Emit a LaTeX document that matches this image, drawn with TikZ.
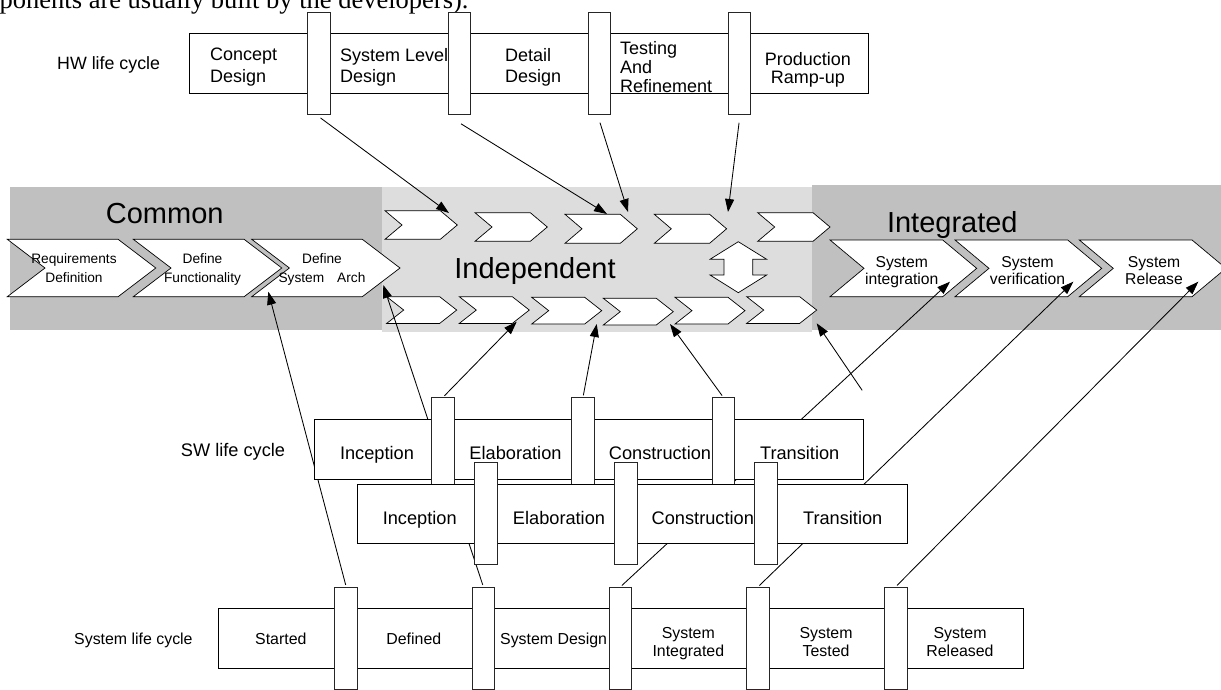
\documentclass[tikz,border=0pt]{standalone}
\usepackage{fontspec}
\setmainfont{Liberation Sans}
\newfontfamily\bodyserif{Liberation Serif}
\usetikzlibrary{arrows.meta}
\definecolor{bandDark}{HTML}{C0C0C0}
\definecolor{bandLight}{HTML}{DDDDDD}
\newcommand\fsz[2]{\fontsize{#1}{#2}\selectfont}
% chevron: left x, top y, width, height, point depth
\newcommand\chevron[5]{\filldraw[chevfill] (#1,#2) -- ++({#3-#5},0) -- ++(#5,{#4/2}) -- ++({-#5},{#4/2}) -- ++({#5-#3},0) -- ++(#5,{-#4/2}) -- cycle;}

\begin{document}
\begin{tikzpicture}[x=1pt,y=-1pt,
  phasebox/.style={draw=black,line width=0.9pt,fill=white,inner sep=0pt,anchor=north west},
  gate/.style={draw=black!85,line width=0.9pt,fill=white,minimum width=22.7pt,minimum height=102pt,inner sep=0pt},
  chevfill/.style={draw=black,line width=0.7pt,fill=white,line join=miter},
  link/.style={draw=black,line width=0.85pt,-{Triangle[length=13pt,width=9pt]},shorten <=2pt},
  plain/.style={draw=black,line width=0.85pt},
  hwtxt/.style={font=\fsz{18}{21.3},inner sep=0pt,align=left,anchor=west},
  swtxt/.style={font=\fsz{18.2}{21},inner sep=0pt,anchor=base},
  systxt/.style={font=\fsz{15.9}{18.4},inner sep=0pt,align=center},
  comtxt/.style={font=\fsz{13.7}{19.4},inner sep=0pt,align=center},
  inttxt/.style={font=\fsz{15.7}{17.7},inner sep=0pt,align=center},
  bigtxt/.style={font=\fsz{29}{32},inner sep=0pt,anchor=base},
  rowlabel/.style={inner sep=0pt,anchor=base west}
]
\useasboundingbox (0,0) rectangle (1221,690);
\clip (0,0) rectangle (1221,690);
\fill[white] (0,0) rectangle (1221,690);

% running text above the figure
\node[inner sep=0pt,anchor=base west,font=\bodyserif\fsz{26.5}{30}] (intro) at (-0.5,8.5) {ponents are usually built by the developers).};

% --- shared band: common / independent / integrated ---
\fill[bandDark] (10,186.7) rectangle (381.7,330);
\fill[bandLight] (381.7,186.7) rectangle (811.7,331.7);
\fill[bandDark] (811.7,185) rectangle (1221,330);

\node[bigtxt] (common) at (164.7,223.3) {Common};
\node[bigtxt] (independent) at (535,278.3) {Independent};
\node[bigtxt] (integrated) at (952.3,232.7) {Integrated};

% common phases
\chevron{7.3}{239.3}{148.5}{57.4}{37.7}
\chevron{133.3}{239.3}{148.5}{57.4}{37.7}
\chevron{251.7}{239.3}{148.3}{57.4}{37.7}
\node[comtxt] (req) at (74,268.1) {Requirements\\Definition};
\node[comtxt] (func) at (202.5,269.5) {Define\\Functionality};
\node[comtxt] (arch) at (322,269.5) {Define\\System\hspace{13pt}Arch};

% independent hardware track
\chevron{385}{210.7}{72.3}{28.6}{17}
\chevron{475}{212.7}{72.3}{28.6}{17}
\chevron{565}{214.3}{72.3}{29}{17}
\chevron{654.3}{214.3}{72.3}{29}{17}
\chevron{757.7}{212.7}{72.3}{28.6}{17}
% independent software track
\chevron{386.7}{296.7}{70}{26.7}{17}
\chevron{459.3}{296.7}{70}{26.7}{17}
\chevron{531.7}{297.3}{70}{26.7}{17}
\chevron{603.3}{298.3}{70}{26.7}{17}
\chevron{675}{297.3}{70}{26.7}{17}
\chevron{746.7}{296.7}{70}{26.7}{17}

% up-down arrow between the two tracks
\filldraw[chevfill] (738.3,241.7) -- (766.7,259.3) -- (752.7,259.3) -- (752.7,275) -- (766.7,275)
  -- (738.3,292.7) -- (710,275) -- (724,275) -- (724,259.3) -- (710,259.3) -- cycle;

% integrated phases
\chevron{830}{240}{146.7}{56.7}{34}
\chevron{955}{240}{146.7}{56.7}{34}
\chevron{1079.3}{240}{146.7}{56.7}{34}
\node[inttxt] (sysint) at (901.7,272.1) {System\\integration};
\node[inttxt] (sysver) at (1027.5,270.5) {System\\verification};
\node[inttxt] (sysrel) at (1154,270.5) {System\\Release};

% --- HW life cycle ---
\node[rowlabel,font=\fsz{17.8}{20}] (hwlabel) at (57,70) {HW life cycle};
\node[phasebox,minimum width=679pt,minimum height=60pt] (hw) at (189,33.3) {};
\node[hwtxt] (concept) at (210,67) {Concept\\Design};
\node[hwtxt] (syslevel) at (340,67) {System Level\\Design};
\node[hwtxt] (detail) at (505,67) {Detail\\Design};
\node[hwtxt,font=\fsz{18}{18.85}] (testing) at (620,67.4) {Testing\\And\\Refinement};
\node[hwtxt,align=center,anchor=center,font=\fsz{18}{17.7}] (ramp) at (807.8,69.9) {Production\\Ramp-up};
\node[gate] (hb1) at (318.9,63.3) {};
\node[gate] (hb2) at (459.3,63.3) {};
\node[gate] (hb3) at (599.4,63.3) {};
\node[gate] (hb4) at (739.3,63.3) {};

% arrow targets in the band
\coordinate (hA) at (449,213);
\coordinate (hB) at (607,214);
\coordinate (hC) at (628,212);
\coordinate (hD) at (728,212);
\coordinate (sA) at (516.7,321.7);
\coordinate (sB) at (596.7,324);
\coordinate (sC) at (670,324);
\coordinate (sD) at (816.7,323.3);
\coordinate (sDfrom) at (863.3,392);
\coordinate (yA) at (268.3,291.7);
\coordinate (yB) at (383.3,285);
\coordinate (yC) at (950,281.7);
\coordinate (yD) at (1073.3,281.7);
\coordinate (yE) at (1198.3,281.7);

% HW milestones into the independent hardware track
\draw[link] (hb1.south) ++(0,2) -- (hA);
\draw[link] (hb2.south) ++(0,8) -- (hB);
\draw[link] (hb3.south) ++(0,6) -- (hC);
\draw[link] (hb4.south) ++(0,6) -- (hD);

% --- gates of the system life cycle (placed first so their links run behind the SW rows) ---
\node[gate] (yb1) at (346.2,638.3) {};
\node[gate] (yb2) at (483.4,638.3) {};
\node[gate] (yb3) at (620.4,638.3) {};
\node[gate] (yb4) at (758,638.3) {};
\node[gate] (yb5) at (895.6,638.3) {};
\draw[link] (yb1.north) -- (yA);
\draw[link] (yb2.north) -- (yB);
\draw[link] (yb3.north) -- (yC);
\draw[link] (yb4.north) -- (yD);
\draw[link] (yb5.north) -- (yE);

% --- SW life cycle, first iteration ---
\node[rowlabel,font=\fsz{18.2}{21}] (swlabel) at (180.7,456) {SW life cycle};
\node[phasebox,minimum width=549.3pt,minimum height=59.7pt] (sw1) at (314,419.3) {};
\node[swtxt] (inc1) at (377,459.3) {Inception};
\node[swtxt] (ela1) at (515.5,459.3) {Elaboration};
\node[swtxt] (con1) at (660,459.3) {Construction};
\node[swtxt] (tra1) at (799.7,459.3) {Transition};
\node[gate] (sb1) at (443,448.7) {};
\node[gate] (sb2) at (583,448.7) {};
\node[gate] (sb3) at (723.3,448.7) {};
\draw[link] (sb1.north) -- (sA);
\draw[link] (sb2.north) -- (sB);
\draw[link] (sb3.north) -- (sC);
\draw[link] (sDfrom) -- (sD);

% --- SW life cycle, second iteration ---
\node[phasebox,minimum width=550pt,minimum height=59.3pt] (sw2) at (356.7,484) {};
\node[swtxt] (inc2) at (419.7,524) {Inception};
\node[swtxt] (ela2) at (559,524) {Elaboration};
\node[swtxt] (con2) at (702.8,524) {Construction};
\node[swtxt] (tra2) at (842.7,524) {Transition};
\node[gate] (tb1) at (485.7,513.3) {};
\node[gate] (tb2) at (626.2,513.3) {};
\node[gate] (tb3) at (766.2,513.3) {};

% --- System life cycle ---
\node[rowlabel,font=\fsz{15.9}{18}] (syslabel) at (74,644) {System life cycle};
\node[phasebox,minimum width=805pt,minimum height=60pt] (sys) at (218.3,608.3) {};
\node[systxt,anchor=base] (started) at (280.8,644) {Started};
\node[systxt,anchor=base] (defined) at (413.8,644) {Defined};
\node[systxt,anchor=base] (sysdesign) at (553.6,644) {System Design};
\node[systxt] (sysinteg) at (688.3,643.4) {System\\Integrated};
\node[systxt] (systest) at (826,641.8) {System\\Tested};
\node[systxt] (sysrelease) at (960,641.8) {System\\Released};
\node[gate] at (yb1) {};
\node[gate] at (yb2) {};
\node[gate] at (yb3) {};
\node[gate] at (yb4) {};
\node[gate] at (yb5) {};
\end{tikzpicture}
\end{document}
